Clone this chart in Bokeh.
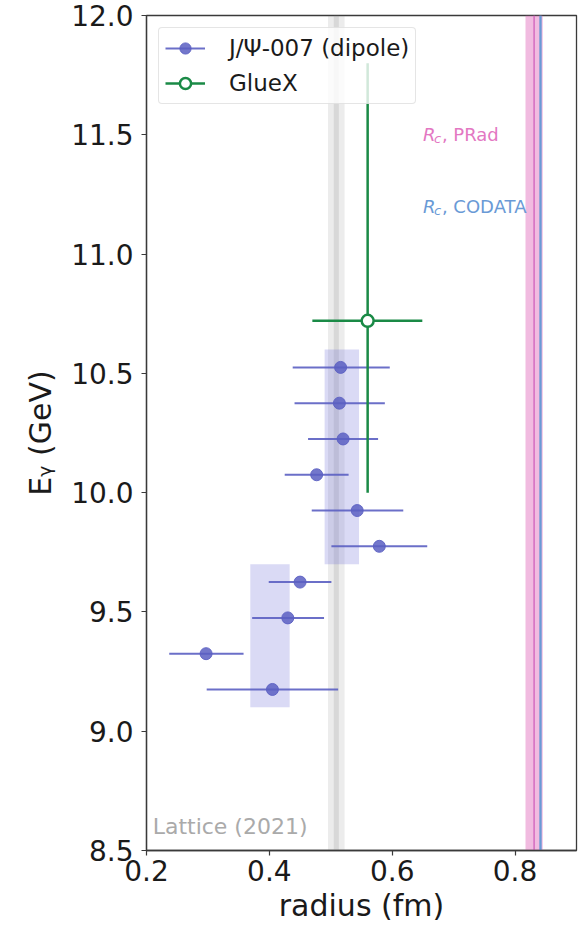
from bokeh.plotting import figure
from bokeh.models import (Range1d, FixedTicker, PrintfTickFormatter,
                          Legend, LegendItem, BoxAnnotation, Span)
from bokeh.core.properties import value
from bokeh.embed import file_html
from bokeh.resources import INLINE

# ---------------- data ----------------
# J/Psi-007 (dipole) radius extraction per photon-energy bin
jpsi_E = [10.525, 10.375, 10.225, 10.075, 9.925, 9.775, 9.625, 9.475, 9.325, 9.175]
jpsi_r = [0.516, 0.514, 0.520, 0.477, 0.543, 0.579, 0.450, 0.430, 0.297, 0.405]
jpsi_r_lo = [0.438, 0.441, 0.463, 0.425, 0.469, 0.501, 0.399, 0.372, 0.237, 0.298]
jpsi_r_hi = [0.596, 0.588, 0.577, 0.529, 0.618, 0.657, 0.501, 0.489, 0.358, 0.512]

# averaged result boxes
box_r_lo = [0.490, 0.369]
box_r_hi = [0.546, 0.433]
box_E_lo = [9.7, 9.1]
box_E_hi = [10.6, 9.7]

# GlueX
gluex_r = [0.560]
gluex_E = [10.72]
gluex_r_lo = [0.470]
gluex_r_hi = [0.649]
gluex_E_lo = [10.0]
gluex_E_hi = [11.8]

# reference radii (fm)
lattice_r, lattice_err = 0.509, 0.0135
prad_r, prad_err = 0.831, 0.014
codata_r, codata_err = 0.8414, 0.0019

x_ticks = [0.2, 0.4, 0.6, 0.8]
y_ticks = [8.5, 9.0, 9.5, 10.0, 10.5, 11.0, 11.5, 12.0]

FONT = "DejaVu Sans"
BLUE = "#5b5fc2"
GREEN = "#1a8a46"
PINK = "#e377c2"
CODATA_C = "#6a9ad6"
DARK = "#3a3a3a"

p = figure(width=580, height=925,
           x_range=Range1d(0.2, 0.9), y_range=Range1d(8.5, 12.0),
           output_backend="svg", toolbar_location=None,
           min_border_left=146, min_border_right=4, min_border_top=15,
           min_border_bottom=0)
p.background_fill_color = "white"
p.border_fill_color = "white"
p.outline_line_color = DARK
p.outline_line_width = 1.3
p.grid.visible = False

p.xaxis.axis_label = "radius (fm)"
p.yaxis.axis_label = "Eᵧ (GeV)"
p.xaxis.ticker = FixedTicker(ticks=x_ticks)
p.yaxis.ticker = FixedTicker(ticks=y_ticks)
p.xaxis.formatter = PrintfTickFormatter(format="%.1f")
p.yaxis.formatter = PrintfTickFormatter(format="%.1f")
for ax in (p.xaxis[0], p.yaxis[0]):
    ax.axis_line_color = DARK
    ax.axis_line_width = 1.3
    ax.major_tick_line_color = DARK
    ax.major_tick_line_width = 1.2
    ax.major_tick_out = 5
    ax.major_tick_in = 0
    ax.minor_tick_out = 0
    ax.minor_tick_in = 0
    ax.major_label_text_font = FONT
    ax.major_label_text_font_size = "28px"
    ax.major_label_text_color = "#1a1a1a"
    ax.axis_label_text_font = FONT
    ax.axis_label_text_font_size = "30px"
    ax.axis_label_text_font_style = "normal"
    ax.axis_label_text_color = "#1a1a1a"
p.xaxis.major_label_standoff = 4
p.xaxis.axis_label_standoff = 4
p.yaxis.major_label_standoff = 8
p.yaxis.axis_label_standoff = 10

# ---------------- reference bands ----------------
p.add_layout(BoxAnnotation(left=lattice_r - lattice_err, right=lattice_r + lattice_err,
                           fill_color="#8a8a8a", fill_alpha=0.16, line_color=None,
                           level="underlay"))
p.add_layout(Span(location=lattice_r, dimension="height", line_color="#9a9a9a",
                  line_alpha=0.25, line_width=5, level="underlay"))
p.add_layout(BoxAnnotation(left=prad_r - prad_err, right=prad_r + prad_err,
                           fill_color=PINK, fill_alpha=0.5, line_color=None,
                           level="underlay"))
p.add_layout(Span(location=prad_r, dimension="height", line_color="#d46cc0",
                  line_width=1.5, level="underlay"))
p.add_layout(BoxAnnotation(left=codata_r - codata_err, right=codata_r + codata_err,
                           fill_color=CODATA_C, fill_alpha=0.5, line_color=None,
                           level="underlay"))
p.add_layout(Span(location=codata_r, dimension="height", line_color=CODATA_C,
                  line_width=2, level="underlay"))

# ---------------- J/Psi-007 ----------------
p.quad(left=box_r_lo, right=box_r_hi, bottom=box_E_lo, top=box_E_hi,
       fill_color="#6b6bd6", fill_alpha=0.25, line_color=None)
jseg = p.segment(x0=jpsi_r_lo, x1=jpsi_r_hi, y0=jpsi_E, y1=jpsi_E,
                 line_color=BLUE, line_width=2, line_alpha=0.9)
jcirc = p.scatter(x=jpsi_r, y=jpsi_E, marker="circle", size=12,
                  fill_color=BLUE, fill_alpha=0.85, line_color=BLUE, line_alpha=0.9)

# ---------------- GlueX ----------------
gseg_h = p.segment(x0=gluex_r_lo, x1=gluex_r_hi, y0=gluex_E, y1=gluex_E,
                   line_color=GREEN, line_width=2.5)
gseg_v = p.segment(x0=gluex_r, x1=gluex_r, y0=gluex_E_lo, y1=gluex_E_hi,
                   line_color=GREEN, line_width=2.5)
gcross = p.scatter(x=[], y=[], marker="cross", size=12, line_color=GREEN, line_width=2.5)
gcirc = p.scatter(x=gluex_r, y=gluex_E, marker="circle", size=12,
                  fill_color="white", line_color=GREEN, line_width=2.5)

# ---------------- labels ----------------
p.text(x=[0.65], y=[11.5], text=["R"], text_color=PINK, text_font=value(FONT),
       text_font_size="18px", text_font_style="italic", text_baseline="alphabetic")
p.text(x=[0.65], y=[11.5], text=["c"], text_color=PINK, text_font=value(FONT),
       text_font_size="13px", text_font_style="italic", text_baseline="alphabetic",
       x_offset=11, y_offset=4)
p.text(x=[0.65], y=[11.5], text=[", PRad"], text_color=PINK, text_font=value(FONT),
       text_font_size="18px", text_baseline="alphabetic", x_offset=19)

p.text(x=[0.65], y=[11.2], text=["R"], text_color=CODATA_C, text_font=value(FONT),
       text_font_size="18px", text_font_style="italic", text_baseline="alphabetic")
p.text(x=[0.65], y=[11.2], text=["c"], text_color=CODATA_C, text_font=value(FONT),
       text_font_size="13px", text_font_style="italic", text_baseline="alphabetic",
       x_offset=11, y_offset=4)
p.text(x=[0.65], y=[11.2], text=[", CODATA"], text_color=CODATA_C, text_font=value(FONT),
       text_font_size="18px", text_baseline="alphabetic", x_offset=19)

p.text(x=[0.21], y=[8.6], text=["Lattice (2021)"], text_color="#aaaaaa",
       text_font=value(FONT), text_font_size="22px", text_baseline="alphabetic")

# ---------------- legend ----------------
legend = Legend(items=[
    LegendItem(label="J/Ψ-007 (dipole)", renderers=[jseg, jcirc]),
    LegendItem(label="GlueX", renderers=[gseg_h, gcross, gcirc]),
], location="top_left")
legend.margin = 12
legend.padding = 6
legend.spacing = 7
legend.glyph_width = 40
legend.glyph_height = 28
legend.label_height = 28
legend.label_standoff = 24
legend.label_text_font = FONT
legend.label_text_font_size = "23px"
legend.label_text_color = "#1a1a1a"
legend.border_line_color = "#cccccc"
legend.border_line_width = 1
legend.background_fill_alpha = 0.8
if "border_radius" in Legend.properties():
    legend.border_radius = 4
p.add_layout(legend)

open("out.html", "w").write(file_html(p, INLINE))
